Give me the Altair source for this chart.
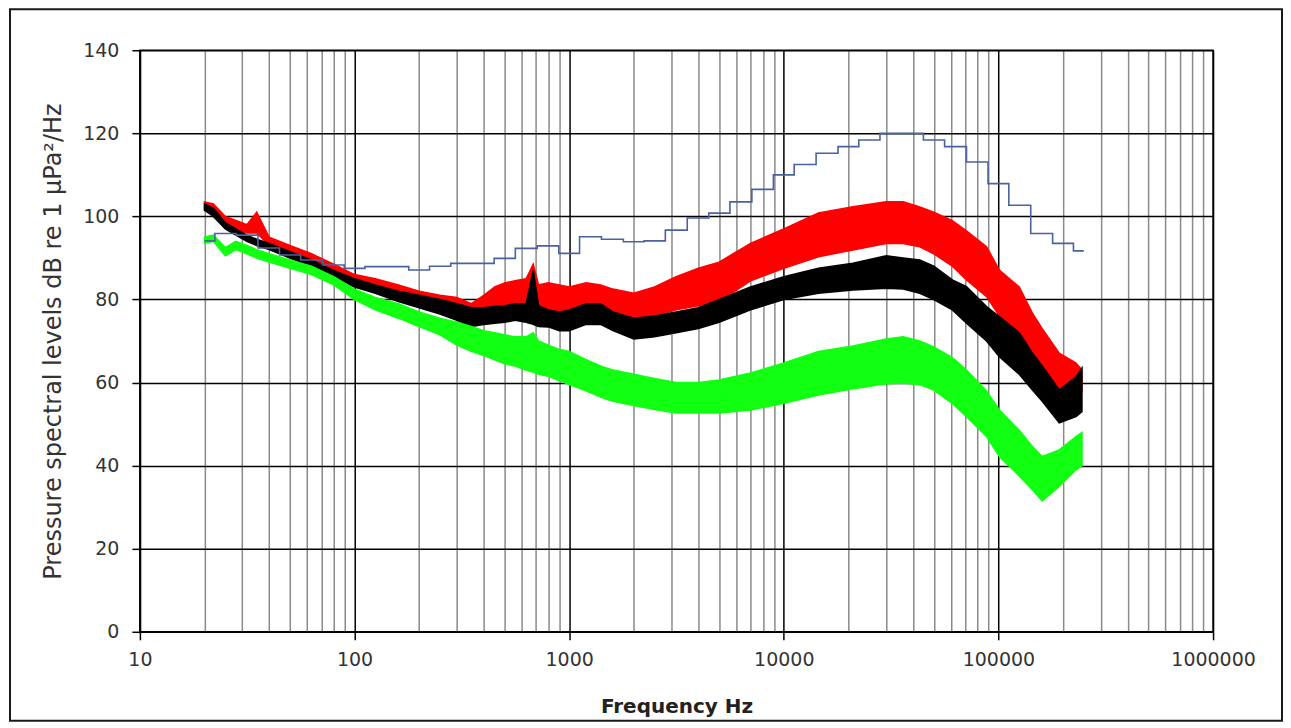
import altair as alt
import pandas as pd

# ---------------- data ----------------
band_freq = [20, 22, 25, 28, 31.5, 35, 40, 50, 63, 80, 100, 125, 160, 200, 250,
             300, 350, 400, 450, 500, 560, 630, 680, 720, 800, 900, 1000, 1200,
             1400, 1600, 2000, 2500, 3150, 4000, 5000, 7000, 10000, 14500, 21000,
             30000, 36000, 43000, 50000, 61000, 71000, 88000, 101000, 125000,
             144000, 160000, 192000, 230000, 245000]

red_lo = [101.5, 101, 98, 97, 96, 96, 93, 91, 89, 86.5, 84, 82.5, 80.5, 79, 77,
          76, 74, 75, 77, 77, 77.5, 77, 77, 76.5, 76, 75.5, 76.5, 77,
          77, 76.5, 75.5, 76, 77.5, 78.5, 79.5, 84.5, 87.5, 90.3, 91.9,
          93.5, 93.5, 92.7, 91, 88, 84.7, 80.7, 76, 71,
          66.2, 63.5, 58.2, 56.6, 58]
red_hi = [103.5, 103, 100, 99, 98, 101, 95, 93, 91, 88.5, 86, 85, 83.5, 82, 81,
          80.5, 79, 81, 83, 84, 84.5, 85, 88.5, 83.5, 84, 83.5, 83, 84,
          83.5, 82.5, 81.5, 83, 85.5, 87.5, 89, 93.5, 97, 100.8, 102.3,
          103.5, 103.5, 102.3, 101, 99, 96.5, 92.7, 87.1, 83,
          76.7, 73, 67.1, 64.7, 63]

black_lo = [101.5, 100, 97, 95.5, 94, 93, 92, 90, 88, 85.5, 83, 81.5, 79.5, 78, 76.5,
            75, 73.5, 74, 74.3, 74.5, 75, 74.5, 74, 73.5, 73.4, 72.5, 72.5, 74,
            74, 72.5, 70.5, 71, 72, 73, 74.5, 77.5, 80, 81.5, 82.3,
            82.7, 82.5, 81.5, 80, 77.5, 74.3, 70, 66.2, 62,
            58.2, 55.5, 50.3, 51.8, 53]
black_hi = [103, 102, 98.5, 97, 95.5, 94.5, 93.5, 91.5, 89.5, 87, 85, 83.5, 82, 81, 80,
            79, 78, 78, 78.3, 78.5, 79, 79, 87, 78.5, 77.5, 77, 77.5, 79,
            79, 77, 75.5, 76, 77, 78, 80, 83, 85.5, 87.5, 88.7,
            90.5, 90, 89.5, 88, 84.7, 83.1, 78.3, 75.9, 72,
            67.1, 64, 58.2, 61.4, 63.5]

green_lo = [93.5, 94, 90.5, 92, 91, 90, 89, 87.5, 86, 83.5, 80, 77.5, 75.5, 73.5, 71.5,
            69, 67.5, 66.5, 65.5, 64.5, 64, 63, 62.5, 62, 61.5, 60.5, 59.5, 58,
            56.5, 55.5, 54.5, 53.5, 52.7, 52.7, 52.7, 53.4, 55, 57, 58.5,
            59.7, 59.9, 59.5, 58.2, 55, 51.8, 47, 42.2, 37.5,
            34.2, 31.5, 35, 39, 40]
green_hi = [95, 95.5, 92.5, 94, 93, 92, 91, 89.5, 88, 85.5, 82.5, 80.5, 79, 77, 75.5,
            74.5, 73.5, 72.5, 72, 71.5, 71, 71, 72, 70, 69, 68, 67.5, 65.5,
            64, 63, 62, 61, 60, 60, 60.6, 62.3, 64.7, 67.5, 68.8,
            70.5, 71, 70, 68.6, 66, 63, 58, 53.4, 48.5,
            44.6, 42.2, 43.8, 47, 48]

# 1/3-octave band levels (blue stepped line)
third_oct_freq = [20, 25, 31.5, 40, 50, 63, 80, 100, 125, 160, 200, 250, 315, 400,
                  500, 630, 800, 1000, 1250, 1600, 2000, 2500, 3150, 4000, 5000,
                  6300, 8000, 10000, 12500, 16000, 20000, 25000, 31500, 40000,
                  50000, 63000, 80000, 100000, 125000, 160000, 200000, 250000]
third_oct_level = [94.1, 95.9, 95.5, 92.4, 90.7, 89.5, 88.3, 87.5, 87.9, 87.9, 87.1,
                   88.0, 88.7, 88.7, 89.9, 92.3, 92.9, 91.1, 95.1, 94.5, 93.9, 94.1,
                   96.7, 99.6, 100.8, 103.5, 106.5, 110.0, 112.5, 115.2, 116.8, 118.4,
                   120.0, 120.0, 118.4, 116.8, 113.1, 107.9, 102.7, 95.9, 93.5, 91.7]

decades = [10, 100, 1000, 10000, 100000, 1000000]
x_tick_values = [m * 10 ** k for k in range(1, 6) for m in range(1, 10)] + [1000000]
y_tick_values = [0, 20, 40, 60, 80, 100, 120, 140]

# ---------------- chart ----------------
FONT = "DejaVu Sans"
is_decade = "indexof([10,100,1000,10000,100000,1000000], datum.value) >= 0"

x_scale = alt.Scale(type="log", domain=[10, 1000000], nice=False)
y_scale = alt.Scale(domain=[0, 140], nice=False)

x_axis = alt.Axis(
    values=x_tick_values,
    labelExpr=is_decade + " ? datum.value : ''",
    grid=True,
    gridColor={"condition": {"test": is_decade, "value": "#000000"}, "value": "#8a8a8a"},
    gridWidth=1.5,
    tickColor={"condition": {"test": is_decade, "value": "#000000"}, "value": "transparent"},
    tickSize=8,
    tickWidth=1.5,
    domainColor="#000000",
    domainWidth=1.5,
    labelFont=FONT,
    labelFontSize=19,
    labelColor="#333333",
    labelPadding=11,
    labelOverlap=False,
    labelFlush=False,
    title="Frequency Hz",
    titleFont=FONT,
    titleFontSize=20,
    titleFontWeight="bold",
    titleColor="#222222",
    titlePadding=27,
)

y_axis = alt.Axis(
    values=y_tick_values,
    grid=True,
    gridColor="#000000",
    gridWidth=1.5,
    tickColor="#000000",
    tickSize=8,
    tickWidth=1.5,
    domainColor="#000000",
    domainWidth=1.5,
    labelFont=FONT,
    labelFontSize=19,
    labelColor="#333333",
    labelPadding=13,
    title="Pressure spectral levels dB re 1 µPa²/Hz",
    titleFont=FONT,
    titleFontSize=24,
    titleFontWeight="normal",
    titleColor="#333333",
    titlePadding=17,
)


def band(lo, hi, color):
    df = pd.DataFrame({"f": band_freq, "lo": lo, "hi": hi})
    return alt.Chart(df).mark_area(
        color=color, opacity=1, stroke=color, strokeWidth=1.5
    ).encode(
        x=alt.X("f:Q", scale=x_scale, axis=x_axis),
        y=alt.Y("lo:Q", scale=y_scale, axis=y_axis),
        y2="hi:Q",
    )


red = band(red_lo, red_hi, "#ff0000")
black = band(black_lo, black_hi, "#000000")
green = band(green_lo, green_hi, "#11ff11")

blue_df = pd.DataFrame({"f": third_oct_freq, "level": third_oct_level})
blue = alt.Chart(blue_df).mark_line(
    color="#4b62a0", strokeWidth=1.6, interpolate="step"
).encode(
    x=alt.X("f:Q", scale=x_scale, axis=x_axis),
    y=alt.Y("level:Q", scale=y_scale, axis=y_axis),
)

frame = alt.Chart(pd.DataFrame({"k": [0]})).mark_rect(
    filled=False, stroke="#1a1a1a", strokeWidth=2
).encode(
    x=alt.value(-130), x2=alt.value(1143), y=alt.value(-41), y2=alt.value(671)
)

chart = alt.layer(red, black, green, blue, frame).properties(
    width=1074,
    height=582,
    autosize=alt.AutoSizeParams(type="none"),
    padding={"left": 132, "top": 42, "right": 70, "bottom": 95},
).configure_view(stroke="#000000", strokeWidth=1.5)

chart.save("out.html", embed_options={"renderer": "svg", "actions": False})
